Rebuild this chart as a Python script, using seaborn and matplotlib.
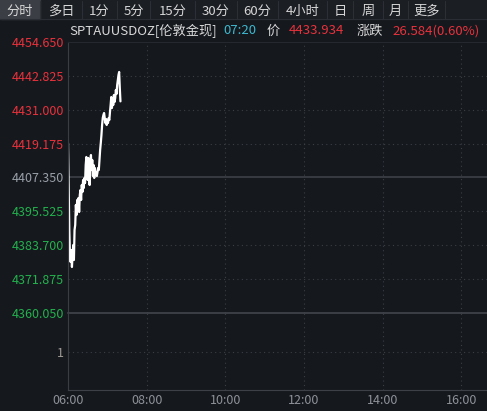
import pandas as pd
import seaborn as sns
import matplotlib.pyplot as plt

# minutes since 06:00 and the gold spot price (London)
minutes = list(range(81))
prices = [4419.39, 4404.73, 4389.02, 4380.30, 4377.85, 4382.04, 4376.11, 4380.30, 4383.79, 4378.55,
          4389.02, 4390.77, 4397.75, 4394.26, 4399.50, 4396.00, 4400.19, 4395.31, 4401.24, 4402.99,
          4399.50, 4404.73, 4402.29, 4406.48, 4403.68, 4407.18, 4405.43, 4411.71, 4414.51, 4409.97,
          4406.48, 4414.16, 4409.27, 4404.73, 4412.76, 4415.20, 4409.97, 4413.46, 4407.87, 4411.71,
          4407.18, 4410.67, 4408.22, 4409.27, 4407.87, 4409.27, 4410.67, 4409.97, 4413.46, 4416.95,
          4419.39, 4422.18, 4425.68, 4428.12, 4429.17, 4429.87, 4428.12, 4426.37, 4427.77, 4425.68,
          4427.07, 4426.37, 4428.12, 4427.42, 4430.21, 4432.66, 4435.45, 4431.61, 4434.40, 4432.66,
          4436.15, 4433.71, 4435.10, 4437.89, 4436.50, 4439.64, 4441.38, 4443.13, 4444.18, 4438.59,
          4433.93]

price_ticks = [4454.650, 4442.825, 4431.000, 4419.175, 4407.350, 4395.525, 4383.700, 4371.875, 4360.050]
prev_close = 4407.350
time_ticks = [0, 120, 240, 360, 480, 600]
time_labels = ["06:00", "08:00", "10:00", "12:00", "14:00", "16:00"]
x_end = 639

buttons = ["分时", "多日", "1分", "5分", "15分", "30分", "60分", "4小时", "日", "周", "月", "更多"]
button_edges = [0, 40, 82, 117, 150, 195, 237, 278, 327, 353, 383, 408, 445]

BG = "#15181d"
GRID = "#3a3e45"
RED = "#e8323c"
GREEN = "#23b14d"
GRAY = "#9aa0a8"

sns.set_style("dark")
plt.rcParams["font.family"] = ["Noto Sans CJK SC", "DejaVu Sans"]

W, H = 487, 411
fig = plt.figure(figsize=(W / 100, H / 100), dpi=100, facecolor=BG)


def fx(x):
    return x / W


def fy(y):
    return 1 - y / H


ax = fig.add_axes([fx(68), fy(313), 1 - fx(68), fy(42) - fy(313)])
axv = fig.add_axes([fx(68), fy(390), 1 - fx(68), fy(313) - fy(390)])

df = pd.DataFrame({"minute": minutes, "price": prices})
sns.lineplot(data=df, x="minute", y="price", ax=ax, color="white", linewidth=1.6)

for a in (ax, axv):
    a.set_facecolor(BG)
    a.set_xlim(0, x_end)
    a.set_xlabel("")
    a.set_ylabel("")
    for s in a.spines.values():
        s.set_visible(False)
    a.spines["left"].set_visible(True)
    a.spines["left"].set_color("#3a3d44")
    a.tick_params(length=0, pad=3, labelsize=9)
    for t in time_ticks[1:]:
        a.axvline(t, color=GRID, lw=0.8, ls=(0, (1, 3)), zorder=0)
axv.patch.set_visible(False)

ax.set_ylim(price_ticks[-1], price_ticks[0])
ax.set_yticks(price_ticks)
ax.set_yticklabels([f"{v:.3f}" for v in price_ticks])
for lab, v in zip(ax.get_yticklabels(), price_ticks):
    lab.set_color(RED if v > prev_close else (GREEN if v < prev_close else GRAY))
for v in price_ticks[1:-1]:
    if v == prev_close:
        ax.axhline(v, color="#3d4047", lw=1.2, zorder=0)
    else:
        ax.axhline(v, color=GRID, lw=0.8, ls=(0, (1, 3)), zorder=0)
ax.spines["top"].set_visible(True)
ax.spines["top"].set_color("#25282e")
ax.spines["bottom"].set_visible(True)
ax.spines["bottom"].set_color("#42454c")
ax.spines["bottom"].set_linewidth(1.2)
ax.set_xticks([])

axv.set_ylim(0, 2)
axv.set_yticks([1])
axv.set_yticklabels(["1"], color="#a09a94")
axv.axhline(1, color=GRID, lw=0.8, ls=(0, (1, 3)), zorder=0)
axv.spines["bottom"].set_visible(True)
axv.spines["bottom"].set_color("#3d4047")
axv.set_xticks(time_ticks)
axv.set_xticklabels(time_labels, color="#8e9198")

# toolbar
fig.patches.append(plt.Rectangle((0, fy(19)), 1, 19 / H, transform=fig.transFigure,
                                 color="#1b1e23", zorder=0))
fig.patches.append(plt.Rectangle((0, fy(19)), fx(40), 19 / H, transform=fig.transFigure,
                                 color="#3b3e45", zorder=1))
for i, name in enumerate(buttons):
    x0, x1 = button_edges[i], button_edges[i + 1]
    fig.text(fx((x0 + x1) / 2), fy(11), name, ha="center", va="center", fontsize=9.5, color="#d6d6d6")
    fig.lines.append(plt.Line2D([fx(x1), fx(x1)], [fy(18), fy(1)], transform=fig.transFigure,
                                color="#2c2f35", lw=0.8))
fig.lines.append(plt.Line2D([0, 1], [fy(19.5), fy(19.5)], transform=fig.transFigure, color="#2a2d33", lw=0.8))

# header
hy = fy(31)
fig.text(fx(69), hy, "SPTAUUSDOZ[伦敦金现]", ha="left", va="center", fontsize=9.5, color="#d8d8d8")
fig.text(fx(223), hy, "07:20", ha="left", va="center", fontsize=9.5, color="#3db8cf")
fig.text(fx(267), hy, "价", ha="left", va="center", fontsize=9.5, color="#d8d8d8")
fig.text(fx(289), hy, "4433.934", ha="left", va="center", fontsize=9.5, color=RED)
fig.text(fx(357), hy, "涨跌", ha="left", va="center", fontsize=9.5, color="#d8d8d8")
fig.text(fx(392), hy, "26.584(0.60%)", ha="left", va="center", fontsize=9.5, color=RED)

fig.savefig("out.png", dpi=100, facecolor=BG)
